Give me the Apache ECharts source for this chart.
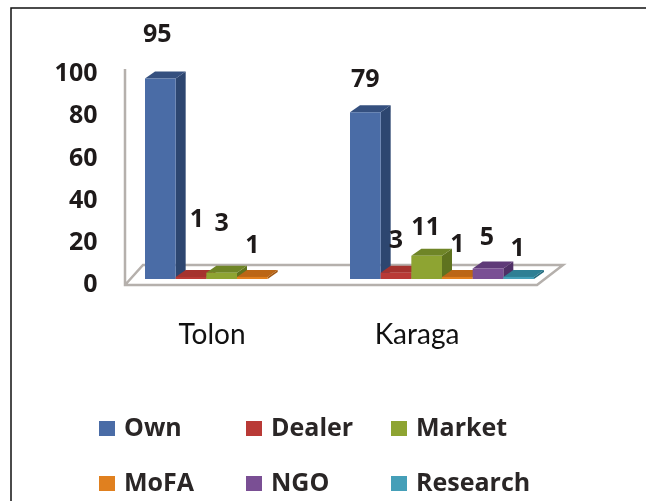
<!DOCTYPE html>
<html><head><meta charset="utf-8">
<style>html,body{margin:0;padding:0;background:#fff}#c{width:646px;height:501px;filter:blur(0.7px)}</style>
<script src="https://cdn.jsdelivr.net/npm/echarts@6/dist/echarts.min.js"></script>
</head><body><div id="c"></div>
<script>
const categories = ['Tolon', 'Karaga'];
const seriesNames = ['Own', 'Dealer', 'Market', 'MoFA', 'NGO', 'Research'];
const own = [95, 79];
const dealer = [1, 3];
const market = [3, 11];
const mofa = [1, 1];
const ngo = [null, 5];
const research = [null, 1];
const yTicks = [0, 20, 40, 60, 80, 100];

const values = [own, dealer, market, mofa, ngo, research];
const palette = [
  {front:'#4a6ca6', top:'#35507f', side:'#2d4670'},
  {front:'#b93a36', top:'#a5322e', side:'#862723'},
  {front:'#8ea432', top:'#6f8527', side:'#5f731f'},
  {front:'#e0801f', top:'#bb6616', side:'#a05611'},
  {front:'#7a4f94', top:'#5f3a78', side:'#4f2f66'},
  {front:'#459fb8', top:'#2f7f94', side:'#266b7d'}
];
// where each printed number sits relative to its bar top (the source labels are hand-nudged)
const nudge = [
  [[-3,-44],[0,-32]], [[6,-57],[0,-32]], [[0,-49],[-1,-28]],
  [[0,-31],[0,-32]], [[0,0],[-1,-31]], [[0,0],[-1,-28]]
];
const DX = 10, DY = 7, N = 6, GROUP = 184;

function barItem(si){
  return function(params, api){
    const c = api.value(0), v = api.value(1);
    const base = api.coord([c, 0]), top = api.coord([c, v]);
    const w = GROUP / N;
    const x0 = base[0] - GROUP/2 + si*w, x1 = x0 + w;
    const p = palette[si];
    const children = [
      {type:'polygon', shape:{points:[[x1,base[1]],[x1+DX,base[1]-DY],[x1+DX,top[1]-DY],[x1,top[1]]]}, style:{fill:p.side}},
      {type:'polygon', shape:{points:[[x0,top[1]],[x0+DX,top[1]-DY],[x1+DX,top[1]-DY],[x1,top[1]]]}, style:{fill:p.top}},
      {type:'rect', shape:{x:x0,y:top[1],width:w,height:base[1]-top[1]}, style:{fill:p.front}}
    ];
    const n = nudge[si][c];
    children.push({type:'text', z2:10, style:{
      text:String(v), x:(x0+x1)/2+n[0], y:top[1]+n[1], align:'center', verticalAlign:'middle',
      font:'700 25px "Open Sans"', fill:'#1e1a1a'}});
    return {type:'group', children};
  };
}
function wallItem(params, api){
  const o = api.coord([0, 0]), t = api.coord([0, 100]);
  const left = 125, right = 537, fy = o[1] + 6, by = fy - 20;
  const line = {stroke:'#b5b0ac', lineWidth:2.5, fill:null};
  return {type:'group', children:[
    {type:'polyline', shape:{points:[[left,t[1]+1],[left,fy],[right,fy],[right+26,by],[left+18,by],[left,fy]]}, style:line}
  ]};
}
const barSeries = seriesNames.map((name,si)=>({
  name, type:'custom', coordinateSystem:'cartesian2d', z:3,
  itemStyle:{color:palette[si].front},
  renderItem:barItem(si), clip:false,
  data: values[si].map((v,i)=> v==null ? null : [i,v]).filter(Boolean)
}));
const legendCols = [[94,[0,3]],[241,[1,4]],[386,[2,5]]];
const option = {
  animation:false, backgroundColor:'#fff',
  graphic:[{type:'polyline', silent:true, z:0, shape:{points:[[11,520],[11,8],[660,8]]}, style:{stroke:'#111',lineWidth:1.5,fill:null}}],
  grid:{left:134.5, width:410, top:68, height:211},
  xAxis:{type:'category', data:categories, axisLine:{show:false}, axisTick:{show:false},
    axisLabel:{margin:42, padding:[0,50,0,0], fontFamily:'Lato', fontSize:28, color:'#111'}},
  yAxis:{type:'value', min:0, max:100, interval:20, splitLine:{show:false}, axisLine:{show:false}, axisTick:{show:false},
    axisLabel:{margin:37, verticalAlign:'top', lineHeight:12, fontFamily:'Open Sans', fontWeight:700, fontSize:25, color:'#1e1a1a',
      formatter:v=>yTicks.includes(v)?String(v):''}},
  legend: legendCols.map(([left,ids])=>({
    orient:'vertical', left, top:411, itemWidth:16, itemHeight:15, itemGap:30,
    icon:'rect', selectedMode:false, data:ids.map(i=>seriesNames[i]),
    textStyle:{fontFamily:'Open Sans', fontWeight:700, fontSize:25, color:'#2a2626', padding:[0,0,0,4]}
  })),
  series:[{type:'custom', coordinateSystem:'cartesian2d', z:1, renderItem:wallItem, clip:false, silent:true, data:[[0,0]]}].concat(barSeries)
};
echarts.init(document.getElementById('c'),null,{renderer:'canvas'}).setOption(option);
</script></body></html>
